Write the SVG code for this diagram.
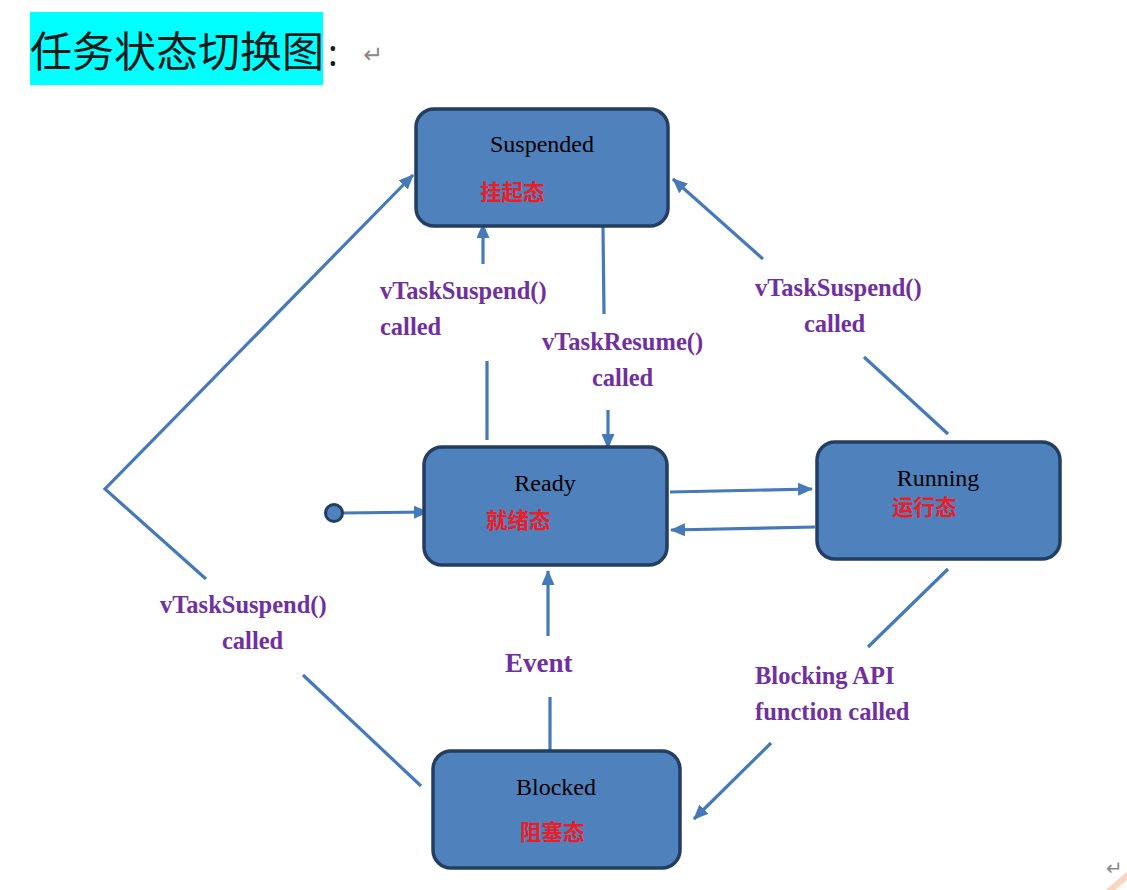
<svg xmlns="http://www.w3.org/2000/svg" width="1127" height="890" viewBox="0 0 1127 890">
<style>
.box{fill:#4F81BD;stroke:#233E61;stroke-width:3.5}
.st{font-family:"Liberation Serif","Times New Roman",serif;font-size:24px;fill:#000}
.cn{font-family:"Noto Sans CJK SC",sans-serif;font-size:21.5px;font-weight:bold;fill:#EE1C25}
.lb{font-family:"Liberation Serif","Times New Roman",serif;font-size:24.5px;font-weight:bold;fill:#7030A0}
.ln{stroke:#4579B9;stroke-width:3.2;fill:none}
.ar{stroke:#4579B9;stroke-width:3.2;fill:none;marker-end:url(#ah)}
</style>
<defs>
<marker id="ah" markerUnits="userSpaceOnUse" markerWidth="15" markerHeight="13" refX="14" refY="6.5" orient="auto">
<path d="M0,0 L15,6.5 L0,13 z" fill="#4579B9"/>
</marker>
</defs>
<rect x="0" y="0" width="1127" height="890" fill="#FFFFFF"/>
<g id="title">
<rect x="30" y="12" width="293" height="73" fill="#00FFFF"/>
<text x="30" y="67" style="font-family:'Noto Sans CJK SC',sans-serif;font-size:42px;fill:#1a1a1a">任务状态切换图</text>
<text x="328" y="66" style="font-family:'Noto Sans',sans-serif;font-size:36px;fill:#1a1a1a">:</text>
<text x="363" y="63" style="font-family:'DejaVu Sans',sans-serif;font-size:24px;fill:#8a8a8a">↵</text>
</g>
<g id="connectors">
<line class="ln" x1="487" y1="440" x2="487" y2="361"/>
<line class="ar" x1="483" y1="264" x2="483" y2="224"/>
<line class="ln" x1="603" y1="227" x2="604" y2="314"/>
<line class="ar" x1="608" y1="410" x2="608" y2="448"/>
<line class="ln" x1="948" y1="434" x2="864" y2="357"/>
<line class="ar" x1="763" y1="259" x2="673" y2="179"/>
<line class="ar" x1="670" y1="492" x2="812" y2="489"/>
<line class="ar" x1="815" y1="527" x2="671" y2="530"/>
<line class="ar" x1="342" y1="513" x2="428" y2="512"/>
<line class="ln" x1="550" y1="750" x2="550" y2="697"/>
<line class="ar" x1="548" y1="636" x2="548" y2="571"/>
<line class="ln" x1="948" y1="569" x2="868" y2="647"/>
<line class="ar" x1="771" y1="743" x2="694" y2="819"/>
<line class="ln" x1="421" y1="786" x2="303" y2="675"/>
<polyline class="ar" points="206,579 105,489 413,175"/>
</g>
<g id="init">
<circle cx="334" cy="513" r="8.5" fill="#4F81BD" stroke="#233E61" stroke-width="3"/>
</g>
<g id="suspended">
<rect class="box" x="416" y="109" width="252" height="117" rx="18"/>
<text class="st" x="542" y="152" text-anchor="middle">Suspended</text>
<text class="cn" x="480" y="200">挂起态</text>
</g>
<g id="ready">
<rect class="box" x="424" y="447" width="243" height="118" rx="18"/>
<text class="st" x="545" y="491" text-anchor="middle">Ready</text>
<text class="cn" x="486" y="528">就绪态</text>
</g>
<g id="running">
<rect class="box" x="817" y="442" width="243" height="117" rx="18"/>
<text class="st" x="938" y="486" text-anchor="middle">Running</text>
<text class="cn" x="892" y="515">运行态</text>
</g>
<g id="blocked">
<rect class="box" x="433" y="751" width="247" height="117" rx="18"/>
<text class="st" x="556" y="795" text-anchor="middle">Blocked</text>
<text class="cn" x="520" y="840">阻塞态</text>
</g>
<g id="labels">
<text class="lb" x="380" y="299">vTaskSuspend()</text>
<text class="lb" x="380" y="335">called</text>
<text class="lb" x="542" y="350">vTaskResume()</text>
<text class="lb" x="592" y="386">called</text>
<text class="lb" x="755" y="296">vTaskSuspend()</text>
<text class="lb" x="804" y="332">called</text>
<text class="lb" x="160" y="613">vTaskSuspend()</text>
<text class="lb" x="222" y="649">called</text>
<text class="lb" x="505" y="672" style="font-size:27px">Event</text>
<text class="lb" x="755" y="684">Blocking API</text>
<text class="lb" x="755" y="720">function called</text>
</g>
<g id="corner">
<line x1="1108" y1="892" x2="1129" y2="874" stroke="#FAD5C0" stroke-width="6"/>
<text x="1106" y="875" style="font-family:'DejaVu Sans',sans-serif;font-size:20px;fill:#8a8a8a">↵</text>
</g>
</svg>
